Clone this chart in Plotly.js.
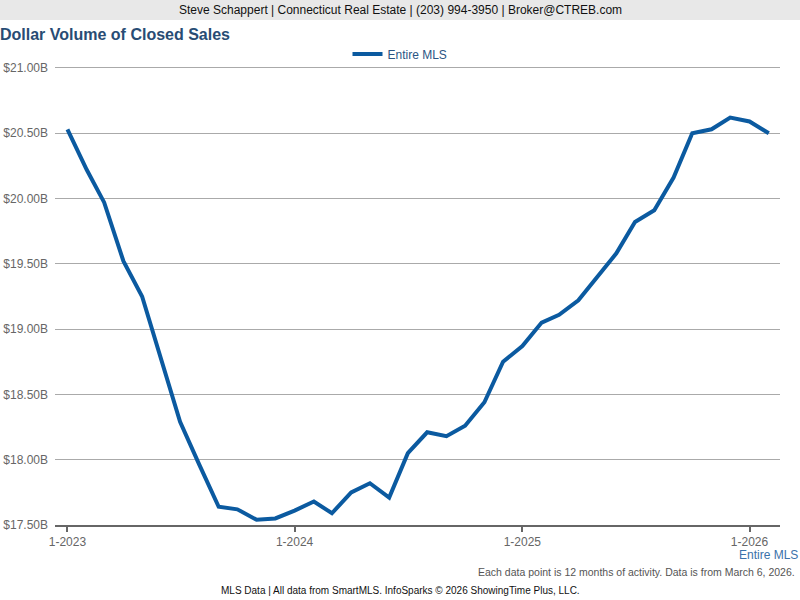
<!DOCTYPE html>
<html>
<head>
<meta charset="utf-8">
<script src="https://cdn.plot.ly/plotly-3.0.1.min.js"></script>
<style>html,body{margin:0;padding:0;background:#fff;}#chart{width:800px;height:600px;}</style>
</head>
<body>
<div id="chart"></div>
<script>
const months = ["2023-01-01","2023-02-01","2023-03-01","2023-04-01","2023-05-01","2023-06-01","2023-07-01","2023-08-01","2023-09-01","2023-10-01","2023-11-01","2023-12-01",
"2024-01-01","2024-02-01","2024-03-01","2024-04-01","2024-05-01","2024-06-01","2024-07-01","2024-08-01","2024-09-01","2024-10-01","2024-11-01","2024-12-01",
"2025-01-01","2025-02-01","2025-03-01","2025-04-01","2025-05-01","2025-06-01","2025-07-01","2025-08-01","2025-09-01","2025-10-01","2025-11-01","2025-12-01",
"2026-01-01","2026-02-01"];
const entireMLS = [20.53,20.22,19.97,19.52,19.25,18.76,18.29,17.96,17.64,17.62,17.54,17.55,
17.61,17.68,17.59,17.75,17.82,17.71,18.05,18.21,18.18,18.26,18.44,18.75,
18.87,19.05,19.11,19.22,19.40,19.58,19.82,19.91,20.16,20.50,20.53,20.62,
20.59,20.50];
const tickVals = ["2023-01-01","2024-01-01","2025-01-01","2026-01-01"];
const tickText = ["1-2023","1-2024","1-2025","1-2026"];
const yTicks = [17.5,18.0,18.5,19.0,19.5,20.0,20.5,21.0];
const yTickText = ["$17.50B","$18.00B","$18.50B","$19.00B","$19.50B","$20.00B","$20.50B","$21.00B"];

const font = "Liberation Sans, Arial, sans-serif";
const T = 64, B = 75, H = 600 - T - B, W = 725;
const trace = {
  x: months, y: entireMLS, type: "scatter", mode: "lines", name: "Entire MLS",
  line: {color: "#0b5aa0", width: 4}
};
const layout = {
  width: 800, height: 600,
  margin: {l: 55, r: 20, t: T, b: B, autoexpand: false},
  paper_bgcolor: "#fff", plot_bgcolor: "#fff",
  font: {family: font, color: "#666", size: 12},
  title: {text: "<b>Dollar Volume of Closed Sales</b>", x: 0, xref: "container", xanchor: "left", y: 1 - 34/600, yref: "container", yanchor: "middle",
    pad: {t: 0, l: 0}, font: {family: font, size: 16, color: "#284c74"}},
  showlegend: true,
  legend: {orientation: "h", x: 0.5, xanchor: "center", xref: "container", y: 1 - 54/600, yref: "container", yanchor: "middle",
    bgcolor: "rgba(0,0,0,0)", font: {family: font, size: 12, color: "#2b5584"}, itemwidth: 30},
  xaxis: {
    type: "date", range: ["2022-12-12", "2026-02-19"],
    tickvals: tickVals, ticktext: tickText,
    showgrid: false, zeroline: false,
    showline: true, linecolor: "#666", linewidth: 2,
    ticks: "outside", ticklen: 5, tickwidth: 2, tickcolor: "#666",
    tickfont: {family: font, size: 12, color: "#666"}
  },
  yaxis: {
    range: [17.5, 21.03], tickmode: "array", tickvals: yTicks, ticktext: yTickText,
    showgrid: true, gridcolor: "#aaa", gridwidth: 1, zeroline: false,
    showline: false, ticks: "", ticklabelstandoff: 6,
    tickfont: {family: font, size: 12, color: "#666"}
  },
  shapes: [
    {type: "rect", xref: "paper", yref: "paper", x0: -55/W, x1: 1 + 20/W, y0: 1 + (T-20)/H, y1: 1 + T/H,
     fillcolor: "#e8e8e8", line: {width: 0}}
  ],
  annotations: [
    {text: "Steve Schappert | Connecticut Real Estate | (203) 994-3950 | Broker@CTREB.com", xref: "paper", yref: "paper",
     x: 0.5 - 17.5/W, y: 1 + (T-10)/H, xanchor: "center", yanchor: "middle", showarrow: false,
     font: {family: font, size: 12, color: "#111"}},
    {text: "Entire MLS", xref: "paper", yref: "paper", x: 1 + 20/W, y: -30/H, xanchor: "right", yanchor: "middle",
     showarrow: false, font: {family: font, size: 12, color: "#3b72aa"}},
    {text: "Each data point is 12 months of activity. Data is from March 6, 2026.", xref: "paper", yref: "paper",
     x: 1 + 17/W, y: -47/H, xanchor: "right", yanchor: "middle", showarrow: false,
     font: {family: font, size: 10.5, color: "#555"}},
    {text: "MLS Data | All data from SmartMLS. InfoSparks © 2026 ShowingTime Plus, LLC.", xref: "paper", yref: "paper",
     x: 0.5 - 17.5/W, y: -65/H, xanchor: "center", yanchor: "middle", showarrow: false,
     font: {family: font, size: 10, color: "#111"}}
  ]
};
Plotly.newPlot("chart", [trace], layout, {displayModeBar: false, staticPlot: true});
</script>
</body>
</html>
